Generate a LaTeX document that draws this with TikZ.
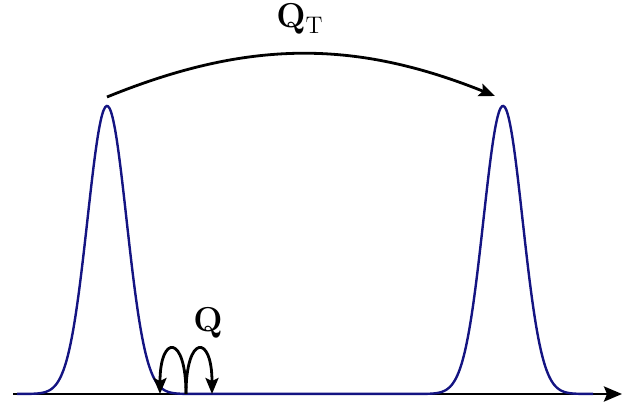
\documentclass[tikz,border=0pt]{standalone}
\usepackage{amsmath}
\usetikzlibrary{arrows.meta}
\definecolor{wavenavy}{RGB}{20,20,130}

\begin{document}
\begin{tikzpicture}[x=0.5pt, y=0.5pt,
      wave/.style={wavenavy, line width=1.2pt},
      arr/.style={-{Stealth[length=8pt, width=6.5pt, inset=1.5pt]}, line width=1.4pt, black},
      lbl/.style={font=\LARGE, inner sep=0pt, anchor=base west},
      declare function={bump(\u)=exp(-min(\u*\u/2, 9));}]
    \useasboundingbox (0,0) rectangle (641,405);
    % axis
    \coordinate (axL) at (13,11);
    \coordinate (axR) at (622,11);
    \draw[-{Stealth[length=9pt, width=7.5pt, inset=1.5pt]}, line width=1.4pt] (axL)--(axR);
    % two wells
    \draw[wave] plot[domain=17:593, samples=400, smooth]
      (\x, {11 + 288*(bump((\x-107)/19.5) + bump((\x-503)/19.5))});
    % long jump
    \coordinate (jmpA) at (107,308);
    \coordinate (jmpB) at (495,309);
    \draw[arr] (jmpA) to[bend left=22] (jmpB);
    \node[lbl] (qt) at (276,377) {$\mathbf{Q}_{\mathrm{T}}$};
    % short hops
    \coordinate (hop0) at (186,11);
    \coordinate (hopL) at (160,11);
    \coordinate (hopR) at (212,11);
    \draw[arr] (hop0) .. controls +(0,60) and +(0,60) .. (hopL);
    \draw[arr] (hop0) .. controls +(0,60) and +(0,60) .. (hopR);
    \node[lbl] (q) at (193,73) {$\mathbf{Q}$};
  \end{tikzpicture}
\end{document}
